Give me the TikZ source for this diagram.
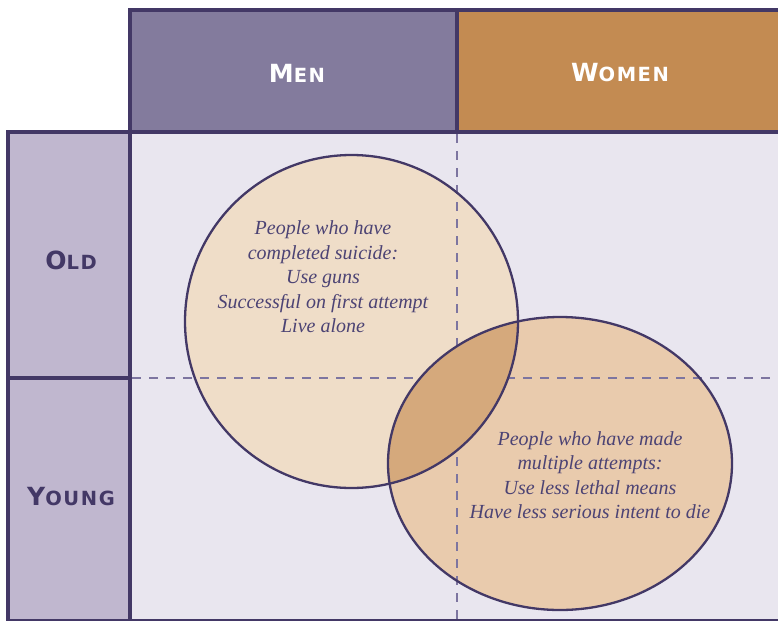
\documentclass[tikz,border=0pt]{standalone}
\usepackage{fontspec}
\setmainfont{Liberation Serif}
\newfontfamily\hdfont[LetterSpace=8]{DejaVu Sans}
\definecolor{frame}{HTML}{433866}
\definecolor{menc}{HTML}{837B9D}
\definecolor{womc}{HTML}{C38B52}
\definecolor{agec}{HTML}{C0B7CF}
\definecolor{bgc}{HTML}{E9E6EF}
\definecolor{circA}{HTML}{EFDDC8}
\definecolor{circB}{HTML}{E9CBAD}
\definecolor{overc}{HTML}{D5A97C}
\definecolor{txtc}{HTML}{4C4374}
\definecolor{dashc}{HTML}{7D75A0}
\newcommand{\bigc}{\fontsize{25}{28}\selectfont}
\newcommand{\smlc}{\fontsize{19.5}{22}\selectfont}
\tikzset{
  border/.style={draw=frame,line width=3.5pt},
  hdtext/.style={font=\hdfont\bfseries,text=white},
  agetext/.style={font=\hdfont\bfseries,text=frame},
  bodytext/.style={font=\itshape\fontsize{20}{24.5}\selectfont,text=txtc,align=center},
  dashline/.style={draw=dashc,line width=2.6pt,dash pattern=on 9pt off 8pt},
  vennline/.style={draw=frame,line width=2.3pt}
}
\begin{document}
\begin{tikzpicture}[x=1pt,y=-1pt]
\useasboundingbox (0,0) rectangle (778,621);
\fill[white] (0,0) rectangle (778,621);
% areas
\fill[menc] (130,10) rectangle (457,132);
\fill[womc] (457,10) rectangle (778,132);
\fill[agec] (8,132) rectangle (130,621);
\fill[bgc] (130,132) rectangle (778,621);
% venn fills
\fill[circA] (351.5,321.5) circle[radius=166.5];
\fill[circB] (560,463.5) ellipse[x radius=172,y radius=146.5];
% dashed
\coordinate (vt) at (457,134);
\coordinate (vb) at (457,621);
\coordinate (hl) at (132,378);
\coordinate (hr) at (778,378);
\draw[dashline] (vt) -- (vb);
\draw[dashline] (hl) -- (hr);
% overlap
\begin{scope}
\clip (351.5,321.5) circle[radius=166.5];
\fill[overc] (560,463.5) ellipse[x radius=172,y radius=146.5];
\end{scope}
\draw[vennline] (351.5,321.5) circle[radius=166.5];
\draw[vennline] (560,463.5) ellipse[x radius=172,y radius=146.5];
% borders
\draw[border] (130,10) -- (778,10);
\draw[border] (130,8.25) -- (130,621);
\draw[border] (457,10) -- (457,132);
\draw[border] (8,132) -- (778,132);
\draw[border] (8,130.25) -- (8,621);
\draw[border] (8,378) -- (130,378);
\draw[draw=frame,line width=1.5pt] (8,620) -- (778,620);
% labels
\node[hdtext] (men) at (297,73) {\bigc M\smlc EN};
\node[hdtext] (women) at (620,73) {\bigc W\smlc OMEN};
\node[agetext] (old) at (71,260) {\bigc O\smlc LD};
\node[agetext] (young) at (71,497) {\bigc Y\smlc OUNG};
\node[bodytext] (ta) at (323,277) {People who have\\completed suicide:\\Use guns\\Successful on first attempt\\Live alone};
\node[bodytext] (tb) at (590,475) {People who have made\\multiple attempts:\\Use less lethal means\\Have less serious intent to die};
\end{tikzpicture}
\end{document}
